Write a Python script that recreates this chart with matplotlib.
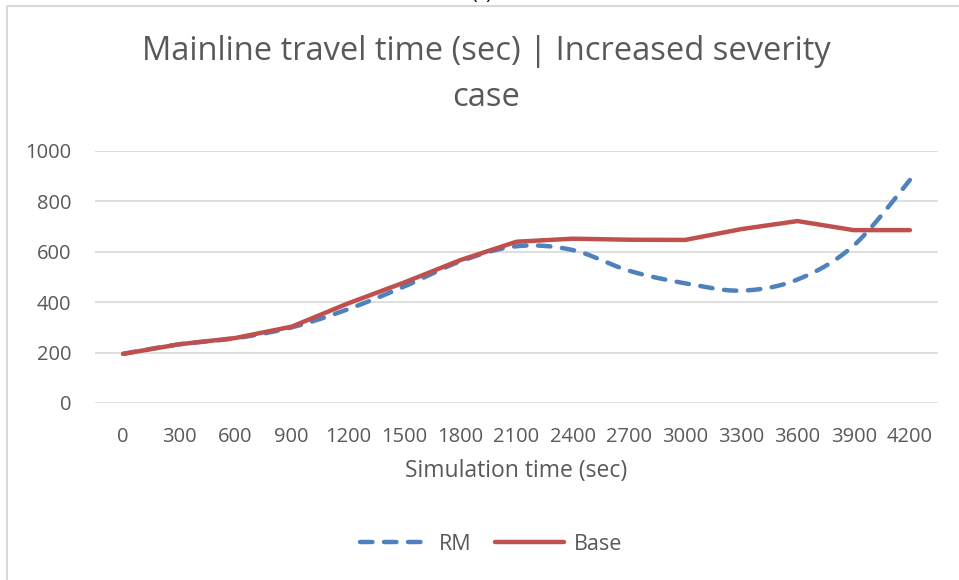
import numpy as np
import matplotlib
matplotlib.use("Agg")
import matplotlib.pyplot as plt
from matplotlib.lines import Line2D

plt.rcParams["font.family"] = ["Open Sans", "DejaVu Sans"]

# data
sim_time = [0, 300, 600, 900, 1200, 1500, 1800, 2100, 2400, 2700, 3000, 3300, 3600, 3900, 4200]
rm = [195, 233, 257, 300, 372, 462, 562, 622, 607, 525, 475, 446, 490, 625, 885]
base = [195, 233, 258, 303, 395, 478, 567, 640, 652, 648, 647, 690, 722, 686, 686]

BLUE = "#4F81BD"
RED = "#C0504D"
GRID = "#D9D9D9"
TEXT = "#595959"


def smooth(y, n=20):
    """Excel-like smoothed line (Catmull-Rom bezier through the points)."""
    x = np.arange(len(y), dtype=float)
    p = np.column_stack([x, np.asarray(y, float)])
    p = np.vstack([p[0], p, p[-1]])
    t = np.linspace(0, 1, n)[:, None]
    out = []
    for i in range(1, len(p) - 2):
        p0, p3 = p[i], p[i + 1]
        c1 = p0 + (p[i + 1] - p[i - 1]) / 6
        c2 = p3 - (p[i + 2] - p[i]) / 6
        seg = ((1 - t) ** 3) * p0 + 3 * ((1 - t) ** 2) * t * c1 + 3 * (1 - t) * t ** 2 * c2 + t ** 3 * p3
        out.append(seg if i == 1 else seg[1:])
    out = np.vstack(out)
    return out[:, 0], out[:, 1]


fig = plt.figure(figsize=(9.59, 5.80), dpi=100)
ax = fig.add_axes([95 / 959, 1 - 403 / 580, 843 / 959, 252 / 580])

xs, ys = smooth(rm)
ax.plot(xs, ys, color=BLUE, lw=3.2, ls=(0, (2.8, 2.6)), dash_capstyle="round",
        label="RM", zorder=3)
ax.plot(range(len(base)), base, color=RED, lw=3.2, solid_capstyle="round",
        solid_joinstyle="round", label="Base", zorder=3)

ax.set_xlim(-0.5, len(sim_time) - 0.5)
ax.set_ylim(0, 1000)
ax.set_yticks(range(0, 1001, 200))
ax.set_xticks(range(len(sim_time)))
ax.set_xticklabels([str(v) for v in sim_time])
ax.grid(axis="y", color=GRID, lw=1.2)
ax.set_axisbelow(True)
for s in ax.spines.values():
    s.set_visible(False)
ax.tick_params(length=0, labelsize=14.5, colors=TEXT)
ax.tick_params(axis="y", pad=17)
ax.tick_params(axis="x", pad=17)
ax.set_xlabel("Simulation time (sec)", fontsize=16.5, color=TEXT, labelpad=9)

fig.text(486 / 959, 1 - 52 / 580, "Mainline travel time (sec) | Increased severity",
         ha="center", va="center", fontsize=23.5, color=TEXT)
fig.text(486 / 959, 1 - 97 / 580, "case",
         ha="center", va="center", fontsize=23.5, color=TEXT)

fig.legend(handles=ax.get_lines(), labels=["RM", "Base"], loc="center",
           bbox_to_anchor=(491 / 959, 1 - 544 / 580), ncol=2, frameon=False,
           fontsize=15.5, handlelength=3.2, columnspacing=1.1, handletextpad=0.45,
           labelcolor=TEXT)

# chart frame (only top and left edges fall inside the crop)
fig.add_artist(Line2D([7 / 959, 7 / 959, 1], [0, 1 - 6 / 580, 1 - 6 / 580],
                      transform=fig.transFigure, color=GRID, lw=1.5))
# clipped panel label above the chart
fig.text(482 / 959, 1 - 3 / 580, "(c)", ha="center", va="bottom", fontsize=14, color="black")

fig.savefig("out.png", dpi=100)
